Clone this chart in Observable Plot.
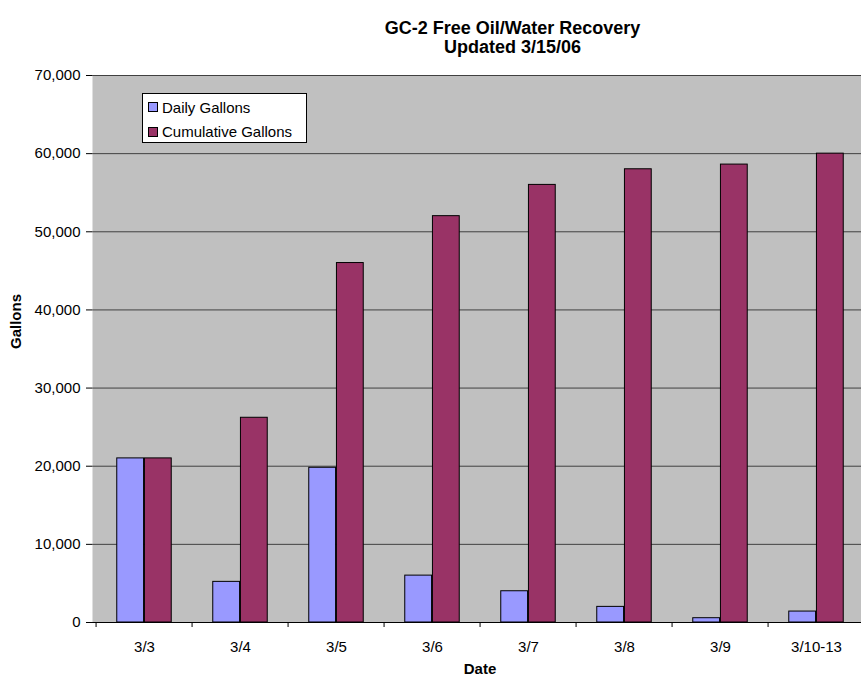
<!DOCTYPE html>
<html>
<head>
<meta charset="utf-8">
<script src="https://cdn.jsdelivr.net/npm/d3@7"></script>
<script src="https://cdn.jsdelivr.net/npm/@observablehq/plot@0.6"></script>
<style>
  html, body { margin: 0; padding: 0; background: white; }
  #wrap { position: relative; width: 861px; height: 681px; overflow: hidden; font-family: "Liberation Sans", Arial, sans-serif; }
  #wrap svg { position: absolute; left: 0; top: 0; }
  .lg { position: absolute; box-sizing: border-box; }
  .lgtext { position: absolute; font-family: "Liberation Sans", Arial, sans-serif; font-size: 15px; line-height: 17px; color: #000; white-space: nowrap; }
</style>
</head>
<body>
<div id="wrap"></div>
<script>
// ---- data ----
const dates = ["3/3", "3/4", "3/5", "3/6", "3/7", "3/8", "3/9", "3/10-13"];
const daily = [21000, 5200, 19800, 6000, 4000, 2000, 550, 1400];
const cumulative = [21000, 26200, 46000, 52000, 56000, 58000, 58600, 60000];
const yTicks = [0, 10000, 20000, 30000, 40000, 50000, 60000, 70000];
const seriesNames = ["Daily Gallons", "Cumulative Gallons"];
const seriesColors = ["#9999FF", "#993366"];

const rows = dates.map((d, i) => ({date: d, daily: daily[i], cumulative: cumulative[i]}));

// ---- layout ----
const W = 867, H = 681;
const mL = 92, mR = 0, mT = 75, mB = 59;
const step = (W - mL - mR) / dates.length;
const bar = step / 3.5;          // two bars + 150% gap
const outer = bar * 0.75;
const fmt = d3.format(",");

const chart = Plot.plot({
  width: W,
  height: H,
  marginLeft: mL,
  marginRight: mR,
  marginTop: mT,
  marginBottom: mB,
  style: {fontFamily: "'Liberation Sans', Arial, sans-serif", fontSize: "15px", color: "#000", background: "white", maxWidth: "none", overflow: "visible"},
  x: {domain: dates, padding: 0, axis: null, label: null},
  y: {domain: [0, 70000], axis: null, label: null},
  marks: [
    Plot.frame({fill: "#C0C0C0", stroke: "none"}),
    Plot.gridY(yTicks, {stroke: "#404040", strokeOpacity: 1, strokeWidth: 1}),
    Plot.barY(rows, {x: "date", y: "daily", fill: seriesColors[0], stroke: "#000", strokeWidth: 1,
      insetLeft: outer, insetRight: step / 2}),
    Plot.barY(rows, {x: "date", y: "cumulative", fill: seriesColors[1], stroke: "#000", strokeWidth: 1,
      insetLeft: step / 2, insetRight: outer}),
    Plot.ruleY([0], {stroke: "#000", strokeWidth: 1}),
    Plot.axisY(yTicks, {tickSize: 6, tickPadding: 6, tickFormat: fmt, label: null, line: true, stroke: "#000", fontSize: 15}),
    Plot.axisX({tickSize: 5, tickFormat: () => "", label: null, dx: -step / 2, stroke: "#000"}),
    Plot.axisX({tickSize: 0, tickPadding: 19, label: null, fontSize: 15}),
    Plot.text(["Date"], {text: d => d, frameAnchor: "bottom", dy: 51, fontWeight: "bold", fontSize: 15, fill: "#000"}),
    Plot.text(["Gallons"], {text: d => d, frameAnchor: "left", dx: -76, rotate: -90, fontWeight: "bold", fontSize: 15, fill: "#000"}),
    Plot.text(["GC-2 Free Oil/Water Recovery"], {text: d => d, frameAnchor: "top", dx: 32.5, dy: -54, fontWeight: "bold", fontSize: 18, fill: "#000"}),
    Plot.text(["Updated 3/15/06"], {text: d => d, frameAnchor: "top", dx: 32.5, dy: -35, fontWeight: "bold", fontSize: 18, fill: "#000"})
  ]
});

const wrap = document.getElementById("wrap");
wrap.appendChild(chart);

// ---- legend ----
function add(cls, css, txt) {
  const el = document.createElement("div");
  el.className = cls;
  Object.assign(el.style, css);
  if (txt) el.textContent = txt;
  wrap.appendChild(el);
  return el;
}
add("lg", {left: "142px", top: "93px", width: "165px", height: "50px", background: "#fff", border: "1px solid #000"});
const rowTops = [102, 127];
const textTops = [99, 122.5];
seriesNames.forEach((name, i) => {
  add("lg", {left: "148px", top: rowTops[i] + "px", width: "10px", height: "10px", background: seriesColors[i], border: "1px solid #000"});
  add("lgtext", {left: "162px", top: textTops[i] + "px"}, name);
});
</script>
</body>
</html>
